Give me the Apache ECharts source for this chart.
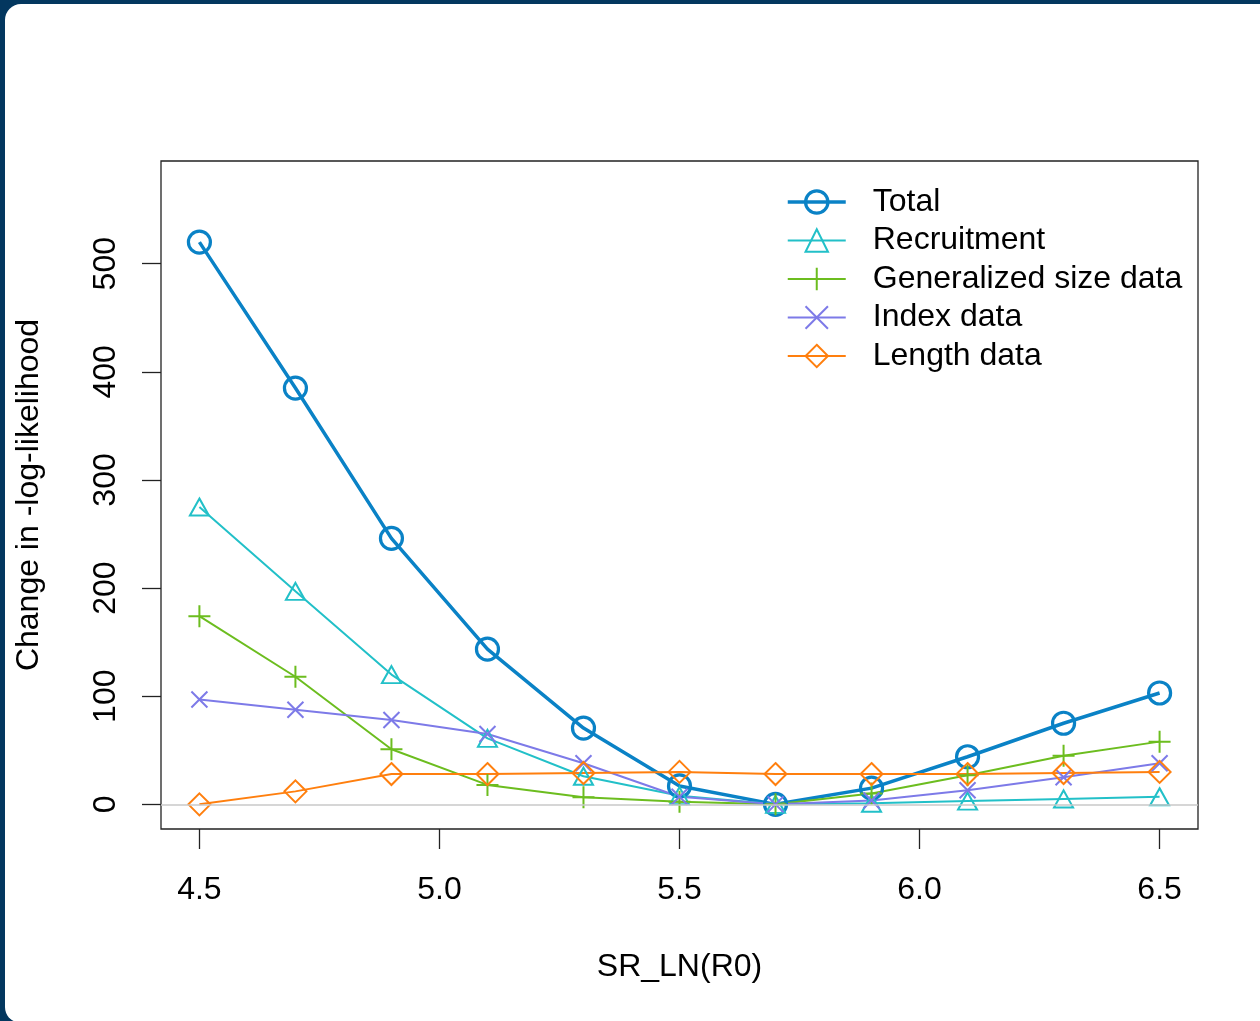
<!DOCTYPE html>
<html>
<head>
<meta charset="utf-8">
<script src="https://cdn.jsdelivr.net/npm/echarts@6/dist/echarts.min.js"></script>
<style>
  html, body { margin: 0; padding: 0; background: #03375f; overflow: hidden; }
  #card { position: absolute; left: 5px; top: 4px; width: 1300px; height: 1019px;
          background: #ffffff; border-radius: 16px; }
  #chart { position: absolute; left: 0; top: 0; width: 1260px; height: 1021px; }
</style>
</head>
<body>
<div id="card"></div>
<div id="chart"></div>
<script>
// SR_LN(R0) profile: change in negative log-likelihood by component
const r0Values   = [4.5, 4.7, 4.9, 5.1, 5.3, 5.5, 5.7, 5.9, 6.1, 6.3, 6.5];
const total       = [520, 385, 246, 143.5, 70.5, 17, 0, 15, 44, 75, 103];
const recruitment = [275, 197, 120, 61, 26, 8, 0, 1, 3, 5, 7];
const sizeData    = [174, 118, 51, 18, 6.5, 2.5, 0, 10, 27, 45, 58];
const indexData   = [97, 87.5, 78, 65, 38, 7, 0, 3.5, 13, 25, 38];
const lengthData  = [0, 12, 28, 28, 29, 30, 28, 28, 28, 29, 30];

const xTicks = [4.5, 5.0, 5.5, 6.0, 6.5];
const yTicks = [0, 100, 200, 300, 400, 500];

const FONT = '"Liberation Sans", Arial, sans-serif';
const INK = '#222222';
const FS = 32;

function pairs(ys) { return r0Values.map((x, i) => [x, ys[i]]); }

function lineSeries(name, ys, color, symbol, size, width, borderWidth) {
  return {
    name: name,
    type: 'line',
    data: pairs(ys),
    symbol: symbol,
    symbolSize: size,
    showSymbol: true,
    lineStyle: { color: color, width: width },
    itemStyle: { color: 'transparent', borderColor: color, borderWidth: borderWidth },
    emphasis: { disabled: true }
  };
}

const PLUS = 'path://M10,0 L10,20 M0,10 L20,10';
const CROSS = 'path://M0,0 L20,20 M0,20 L20,0';

const series = [
  lineSeries('Total', total, '#0a82c6', 'circle', 22, 3.5, 3.2),
  lineSeries('Recruitment', recruitment, '#22c0c8', 'triangle', [19, 17], 2, 2),
  lineSeries('Generalized size data', sizeData, '#6cbd1f', PLUS, 22, 2, 2),
  lineSeries('Index data', indexData, '#7d7ae8', CROSS, 16, 2, 2),
  lineSeries('Length data', lengthData, '#ff7f0e', 'diamond', 22, 2, 2)
];

// zero reference line across the plotting region
series[0].markLine = {
  silent: true,
  symbol: 'none',
  label: { show: false },
  lineStyle: { color: '#c8c8c8', width: 1.5, type: 'solid' },
  data: [{ yAxis: 0 }]
};

const chart = echarts.init(document.getElementById('chart'), null, { renderer: 'canvas' });
chart.setOption({
  animation: false,
  backgroundColor: 'transparent',
  textStyle: { fontFamily: FONT },
  grid: {
    left: 161, top: 161, right: 62, bottom: 192,
    show: true, borderColor: INK, borderWidth: 1.3,
    containLabel: false, outerBoundsMode: 'none'
  },
  legend: {
    orient: 'vertical',
    left: 781, top: 181,
    itemWidth: 58, itemHeight: 28, itemGap: 6.5,
    textStyle: { fontSize: FS, lineHeight: 32, color: '#000', fontFamily: FONT, padding: [0, 0, 0, 22] },
    data: series.map(s => ({
      name: s.name,
      lineStyle: { width: s.lineStyle.width },
      itemStyle: { borderWidth: s.itemStyle.borderWidth }
    }))
  },
  xAxis: {
    type: 'value',
    min: 4.42, max: 6.58,
    name: 'SR_LN(R0)',
    nameLocation: 'middle',
    nameGap: 122,
    nameTextStyle: { fontSize: FS, color: '#000', fontFamily: FONT, verticalAlign: 'top' },
    axisLine: { show: false, onZero: false },
    splitLine: { show: false },
    axisTick: { show: true, inside: false, length: 20, lineStyle: { color: INK, width: 1.3 }, customValues: xTicks },
    axisLabel: {
      customValues: xTicks, margin: 45, fontSize: FS, color: '#000', fontFamily: FONT,
      formatter: v => v.toFixed(1)
    }
  },
  yAxis: {
    type: 'value',
    min: -22.8, max: 595,
    name: 'Change in -log-likelihood',
    nameLocation: 'middle',
    nameGap: 116,
    nameTextStyle: { fontSize: FS, color: '#000', fontFamily: FONT },
    axisLine: { show: false, onZero: false },
    splitLine: { show: false },
    axisTick: { show: true, inside: false, length: 19, lineStyle: { color: INK, width: 1.3 }, customValues: yTicks },
    axisLabel: { customValues: yTicks, rotate: 90, margin: 39, fontSize: FS, color: '#000', fontFamily: FONT }
  },
  series: series
});
</script>
</body>
</html>
